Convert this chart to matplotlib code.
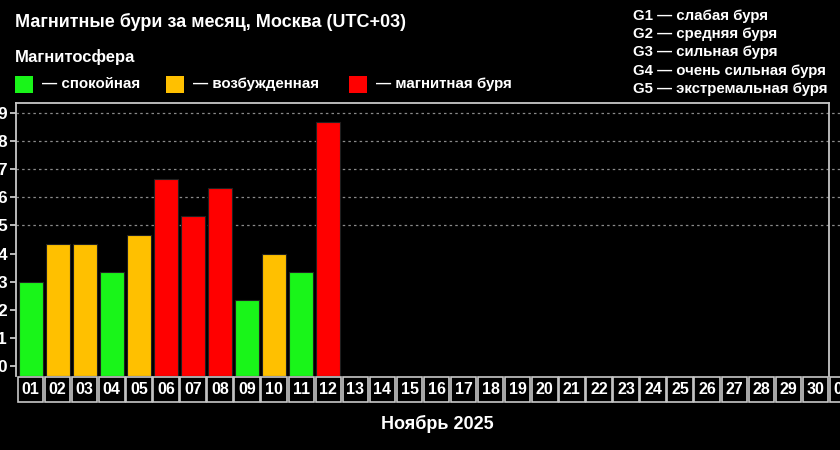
import matplotlib.pyplot as plt
from matplotlib.patches import Rectangle
import matplotlib.transforms as mtransforms

# Kp index per day, November 2025
days = ['01', '02', '03', '04', '05', '06', '07', '08', '09', '10', '11', '12']
kp = [3.0, 4.33, 4.33, 3.33, 4.67, 6.67, 5.33, 6.33, 2.33, 4.0, 3.33, 8.67]
levels = ['calm', 'active', 'active', 'calm', 'active', 'storm', 'storm', 'storm',
          'calm', 'active', 'calm', 'storm']
day_labels = [f'{d:02d}' for d in range(1, 31)] + ['01']
yticks = list(range(0, 10))
grid_levels = [5, 6, 7, 8, 9]
legend_labels = ['— спокойная', '— возбужденная', '— магнитная буря']
g_labels = ['G1 — слабая буря', 'G2 — средняя буря', 'G3 — сильная буря',
            'G4 — очень сильная буря', 'G5 — экстремальная буря']

colors = {'calm': '#19f519', 'active': '#ffc000', 'storm': '#ff0000'}
FG = 'white'
LINE = '#c8c8c8'

plt.rcParams['font.family'] = ['Liberation Sans', 'DejaVu Sans']
plt.rcParams['font.weight'] = 'bold'

fig = plt.figure(figsize=(8.4, 4.5), dpi=100, facecolor='black')
ax = fig.add_axes([16 / 840, 74 / 450, 813 / 840, 273 / 450], facecolor='black')

x = [int(d) for d in days]
ax.bar(x, [v + 0.36 for v in kp], bottom=-0.36, width=0.88,
       color=[colors[l] for l in levels], edgecolor='#202020', linewidth=0.8, zorder=3)

for g in grid_levels:
    ax.plot([0.46, 31.5], [g, g], color='#8a8a8a', linestyle=(0, (2, 2.5)),
            linewidth=0.9, clip_on=False, zorder=1)

ax.set_xlim(0.46, 30.5)
ax.set_ylim(-0.36, 9.36)
ax.set_xticks([])
ax.set_yticks(yticks)
ax.set_yticklabels([str(t) for t in yticks], color=FG, fontsize=12.5, fontweight='bold')
ax.tick_params(axis='y', length=4.5, width=1.3, color=LINE, pad=2)
for side in ['left', 'top', 'right']:
    ax.spines[side].set_color(LINE)
    ax.spines[side].set_linewidth(1.3)
ax.spines['bottom'].set_visible(False)

# day boxes under the axis
trans = mtransforms.blended_transform_factory(ax.transData, ax.transAxes)
for i, lab in enumerate(day_labels, start=1):
    ax.add_patch(Rectangle((i - 0.47, -0.096), 0.94, 0.092, transform=trans,
                           facecolor='black', edgecolor=LINE, linewidth=1.2,
                           clip_on=False))
    ax.text(i, -0.05, lab, transform=trans, ha='center', va='center',
            color=FG, fontsize=11.5, fontweight='bold', clip_on=False)

fig.text(437 / 840, 1 - 424 / 450, 'Ноябрь 2025', ha='center', va='center',
         color=FG, fontsize=13, fontweight='bold')

# header
fig.text(15 / 840, 1 - 22 / 450, 'Магнитные бури за месяц, Москва (UTC+03)',
         ha='left', va='center', color=FG, fontsize=13, fontweight='bold')
fig.text(15 / 840, 1 - 57 / 450, 'Магнитосфера', ha='left', va='center',
         color=FG, fontsize=12, fontweight='bold')

sq_x = [15, 166, 349]
for sx, key, lab in zip(sq_x, ['calm', 'active', 'storm'], legend_labels):
    fig.patches.append(Rectangle((sx / 840, 1 - 93 / 450), 18 / 840, 17 / 450,
                                 transform=fig.transFigure, facecolor=colors[key],
                                 edgecolor='none'))
    fig.text((sx + 27) / 840, 1 - 84 / 450, lab, ha='left', va='center',
             color=FG, fontsize=10.9, fontweight='bold')

for k, lab in enumerate(g_labels):
    fig.text(633 / 840, 1 - (16 + 18.2 * k) / 450, lab, ha='left', va='center',
             color=FG, fontsize=10.8, fontweight='bold')

fig.savefig('out.png', dpi=100, facecolor='black')
